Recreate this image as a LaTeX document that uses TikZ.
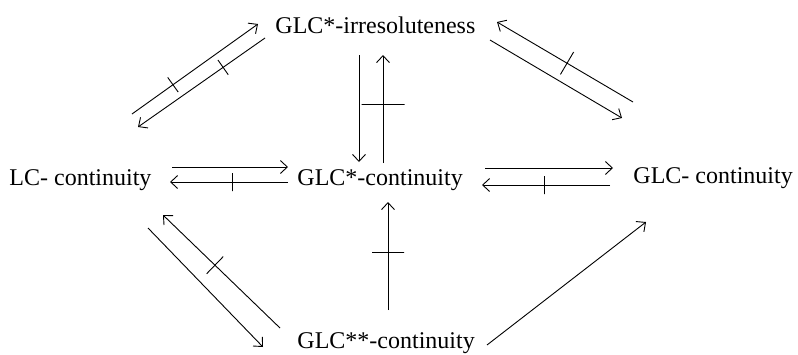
\documentclass[tikz,border=0pt]{standalone}
\usepackage{fontspec}
\setmainfont{Liberation Serif}
\usetikzlibrary{arrows.meta}
\begin{document}
\begin{tikzpicture}[x=1pt,y=-1pt,line width=0.9pt,
  lbl/.style={anchor=base west,inner sep=0pt,font=\fontsize{24}{28}\selectfont},
  arr/.style={-{Straight Barb[length=7pt,width=13pt]}},
  tickmark/.style={sloped,draw,inner sep=0pt,minimum width=0pt,minimum height=#1}]
\useasboundingbox (0,0) rectangle (798,354);
% labels
\node[lbl] (irr)  at (275,33)  {GLC*-irresoluteness};
\node[lbl] (lc)   at (9,185)   {LC- continuity};
\node[lbl] (cont) at (297,185) {GLC*-continuity};
\node[lbl] (glc)  at (633,183) {GLC- continuity};
\node[lbl] (cc)   at (297,348) {GLC**-continuity};
% end points
\coordinate (a1) at (132,114); \coordinate (a2) at (258,24);
\coordinate (b1) at (265,38);  \coordinate (b2) at (138,127);
\coordinate (c1) at (633,102); \coordinate (c2) at (497,22);
\coordinate (d1) at (490,40);  \coordinate (d2) at (622,118);
\coordinate (e1) at (359,55);  \coordinate (e2) at (359,162);
\coordinate (f1) at (383,163); \coordinate (f2) at (383,55);
\coordinate (g1) at (172,167); \coordinate (g2) at (288,167);
\coordinate (h1) at (288,182); \coordinate (h2) at (170,182);
\coordinate (i1) at (485,168); \coordinate (i2) at (613,168);
\coordinate (j1) at (610,185); \coordinate (j2) at (482,185);
\coordinate (k1) at (280,328); \coordinate (k2) at (163,215);
\coordinate (l1) at (148,228); \coordinate (l2) at (263,347);
\coordinate (m1) at (388,310); \coordinate (m2) at (388,202);
\coordinate (n1) at (487,345); \coordinate (n2) at (646,222);
% arrows
\draw[arr] (a1) -- (a2) node[pos=0.325,tickmark=18pt]{};
\draw[arr] (b1) -- (b2) node[pos=0.33,tickmark=18pt]{};
\draw[arr] (c1) -- (c2) node[pos=0.485,tickmark=26pt]{};
\draw[arr] (d1) -- (d2);
\draw[arr] (e1) -- (e2);
\draw[arr] (f1) -- (f2) node[pos=0.54,tickmark=43pt]{};
\draw[arr] (g1) -- (g2);
\draw[arr] (h1) -- (h2) node[pos=0.475,tickmark=18pt]{};
\draw[arr] (i1) -- (i2);
\draw[arr] (j1) -- (j2) node[pos=0.51,tickmark=18pt]{};
\draw[arr] (k1) -- (k2) node[pos=0.556,tickmark=24pt]{};
\draw[arr] (l1) -- (l2);
\draw[arr] (m1) -- (m2) node[pos=0.53,tickmark=32pt]{};
\draw[arr] (n1) -- (n2);
\end{tikzpicture}
\end{document}
